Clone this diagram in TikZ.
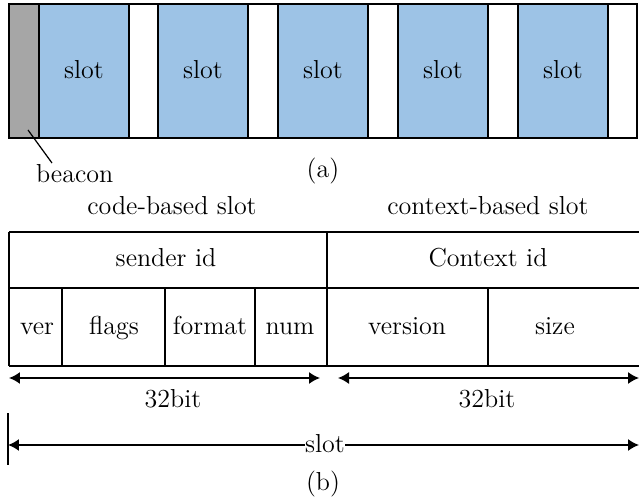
\documentclass[tikz,border=0pt]{standalone}
\usepackage{tikz}
\usetikzlibrary{positioning,arrows.meta}
\definecolor{SlotBlue}{HTML}{9DC3E6}
\definecolor{BeaconGray}{HTML}{A6A6A6}

\tikzset{
	slotbox/.style={draw, fill=SlotBlue, line width=0.9pt, minimum width=1.8cm, minimum height=2.68cm, inner sep=0pt},
	txt/.style={inner sep=1pt, text height=2.5ex, text depth=0.45ex, font=\fontsize{14.8}{18}\selectfont},
	dim/.style={line width=0.9pt, {Latex[length=2.2mm,width=2.4mm]}-{Latex[length=2.2mm,width=2.4mm]}},
	grid/.style={line width=0.9pt}
}

\begin{document}
\begin{tikzpicture}[
			x=0.02cm, y=-0.02cm
			]
			\useasboundingbox (0,0) rectangle (639,500);
			
			% (a) frame
			\draw[grid] (9,4) rectangle (637,138);
			\node[
			draw,
			fill=BeaconGray,
			line width=0.9pt,
			minimum width=0.6cm,
			minimum height=2.68cm,
			inner sep=0pt
			]
			(beaconbox) at (24,71) {};
			\foreach \cx [count=\i] in {84,203,323,443,563}
			\node[slotbox, txt] (slot\i) at (\cx,71) {slot};
			
			% beacon label
			\node[txt, anchor=west] (beacon) at (34,175) {beacon};
			\draw[line width=0.7pt] (28,130) -- (52,163);
			\node[txt] (capa) at (323,170) {(a)};
			
			% slot kinds
			\node[txt] (codeslot) at (172,207) {code-based slot};
			\node[txt] (ctxslot) at (488,207) {context-based slot};
			
			% (b) fields
			\draw[grid] (9,232) -- (650,232);
			\draw[grid] (9,288) -- (650,288);
			\draw[grid] (9,366) -- (650,366);
			\draw[grid] (9,232) -- (9,366);
			\draw[grid] (327,232) -- (327,366);
			\foreach \vx in {62,165,255,488}
			\draw[grid] (\vx,288) -- (\vx,366);
			
			\node[txt] (sender) at (166,259) {sender id};
			\node[txt] (context) at (488,259) {Context id};
			\node[txt] (ver) at (37,327) {ver};
			\node[txt] (flags) at (114,327) {flags};
			\node[txt] (format) at (210,327) {format};
			\node[txt] (num) at (290,327) {num};
			\node[txt] (version) at (407,327) {version};
			\node[txt] (size) at (555,327) {size};
			
			% widths
			\coordinate (codeL) at (9,378);
			\coordinate (codeR) at (320,378);
			\coordinate (ctxL) at (338,378);
			\coordinate (ctxR) at (639,378);
			\draw[dim] (codeL) -- (codeR);
			\draw[dim] (ctxL) -- (ctxR);
			\node[txt] (bitsa) at (173,400) {32bit};
			\node[txt] (bitsb) at (487,400) {32bit};
			
			% slot length
			\coordinate (tickT) at (8,413);
			\coordinate (tickB) at (8,465);
			\coordinate (slotR) at (639,445);
			\draw[grid] (tickT) -- (tickB);
			\node[txt, inner sep=0pt] (slotlen) at (325,445) {slot};
			\draw[line width=0.9pt, -{Latex[length=2.2mm,width=2.4mm]}] (slotlen.west) -- (8,445);
			\draw[line width=0.9pt, -{Latex[length=2.2mm,width=2.4mm]}] (slotlen.east) -- (slotR);
			\node[txt] (capb) at (323,483) {(b)};
			
		\end{tikzpicture}
\end{document}
